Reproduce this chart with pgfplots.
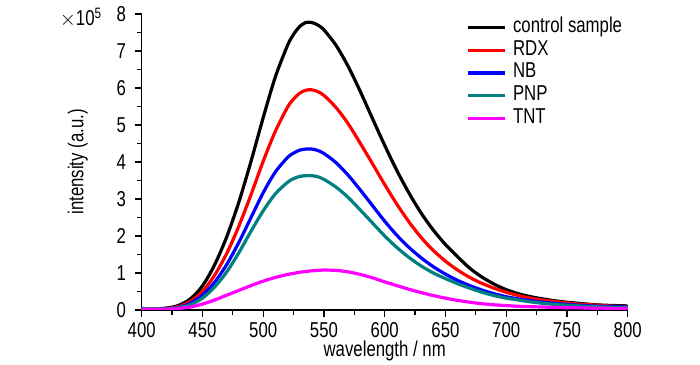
\documentclass[border=0pt]{standalone}
\usepackage{fontspec}
\setmainfont{Liberation Sans}[FakeStretch=0.78]
\usepackage{pgfplots}
\usepackage{pgfplotstable}
\pgfplotsset{compat=1.18}
\definecolor{cteal}{RGB}{0,128,128}
\definecolor{cmag}{RGB}{255,0,255}
\definecolor{cred}{RGB}{255,0,0}
\definecolor{cblue}{RGB}{0,0,255}
\pgfplotstableread{
x     k     r     b     t     m
400  0.03  0.03  0.04  0.04  0.02
410  0.03  0.03  0.03  0.03  0.02
420  0.05  0.04  0.03  0.03  0.02
430  0.12  0.09  0.07  0.06  0.04
440  0.30  0.23  0.18  0.14  0.08
450  0.65  0.50  0.40  0.32  0.16
460  1.22  0.94  0.75  0.62  0.27
470  1.98  1.53  1.23  1.03  0.40
480  2.92  2.27  1.83  1.55  0.53
490  4.02  3.12  2.50  2.13  0.66
500  5.20  4.02  3.17  2.68  0.78
510  6.30  4.83  3.73  3.14  0.88
520  7.15  5.48  4.12  3.45  0.96
525  7.45  5.70  4.24  3.55  0.99
530  7.66  5.86  4.32  3.61  1.02
535  7.77  5.94  4.35  3.63  1.04
540  7.77  5.95  4.35  3.63  1.06
545  7.70  5.90  4.31  3.60  1.07
550  7.57  5.80  4.23  3.53  1.08
560  7.15  5.47  3.98  3.32  1.07
570  6.58  5.03  3.64  3.04  1.03
580  5.90  4.50  3.24  2.70  0.96
590  5.17  3.95  2.82  2.35  0.87
600  4.45  3.39  2.40  2.00  0.76
610  3.77  2.86  2.02  1.69  0.66
620  3.16  2.38  1.69  1.42  0.56
630  2.62  1.96  1.41  1.19  0.47
640  2.16  1.61  1.17  1.00  0.39
650  1.77  1.32  0.97  0.85  0.32
660  1.44  1.08  0.80  0.71  0.26
670  1.13  0.88  0.66  0.59  0.21
680  0.89  0.72  0.54  0.48  0.17
690  0.70  0.59  0.44  0.39  0.14
700  0.55  0.48  0.36  0.32  0.12
710  0.44  0.39  0.30  0.27  0.10
720  0.36  0.32  0.25  0.22  0.09
730  0.30  0.27  0.21  0.18  0.08
740  0.25  0.23  0.18  0.15  0.07
750  0.21  0.19  0.15  0.13  0.06
760  0.18  0.16  0.13  0.11  0.06
770  0.15  0.14  0.11  0.09  0.05
780  0.13  0.12  0.10  0.08  0.05
790  0.12  0.10  0.09  0.07  0.04
800  0.11  0.09  0.08  0.06  0.04
}\data
\begin{document}
\fontsize{21.5bp}{25bp}\selectfont
\begin{tikzpicture}[font=\fontsize{21.5bp}{25bp}\selectfont]
\path[use as bounding box] (-141.7bp,-55bp) rectangle (558.3bp,310bp);
\begin{axis}[
  name=ax,
  scale only axis, width=486bp, height=296bp,
  xmin=400, xmax=800, ymin=0, ymax=8,
  axis lines=left,
  axis line style={-, line width=1.6bp},
  xtick={400,450,...,800}, ytick={0,1,...,8},
  minor x tick num=1, minor y tick num=1,
  tick align=outside,
  major tick length=7bp, minor tick length=4.5bp,
  every tick/.style={black, line width=1.3bp},
  /pgf/number format/assume math mode=true,
  xticklabel style={anchor=north, inner sep=0pt, yshift=-5bp},
  yticklabel style={anchor=east, inner sep=0pt, xshift=-8.5bp},
  xlabel={wavelength / nm},
  ylabel={intensity (a.u.)},
  xlabel style={at={(axis description cs:0.5,-0.158)}, anchor=base, inner sep=0pt},
  ylabel style={at={(axis description cs:-0.1317,0.5)}, anchor=center, inner sep=0pt},
  legend cell align=left,
  legend style={draw=none, fill=none, at={(axis description cs:0.668,0.9925)}, anchor=north west,
    inner sep=0pt, row sep=0pt,
    nodes={inner sep=2.3bp, text height=14bp, text depth=4bp},
    /tikz/every odd column/.append style={column sep=4bp}},
  legend image code/.code={\draw[#1, line width=3.2bp] (0bp,0bp) -- (37bp,0bp);},
  every axis plot/.append style={line width=3.2bp, smooth, no markers},
]
\addplot[black] table[x=x, y=k] {\data};
\addlegendentry{control sample}
\addplot[cred] table[x=x, y=r] {\data};
\addlegendentry{RDX}
\addplot[cblue] table[x=x, y=b] {\data};
\addlegendentry{NB}
\addplot[cteal] table[x=x, y=t] {\data};
\addlegendentry{PNP}
\addplot[cmag] table[x=x, y=m] {\data};
\addlegendentry{TNT}
\end{axis}
\node[anchor=base west, inner sep=0pt] at (-82bp,284bp) {$\times$10\textsuperscript{5}};
\end{tikzpicture}
\end{document}
